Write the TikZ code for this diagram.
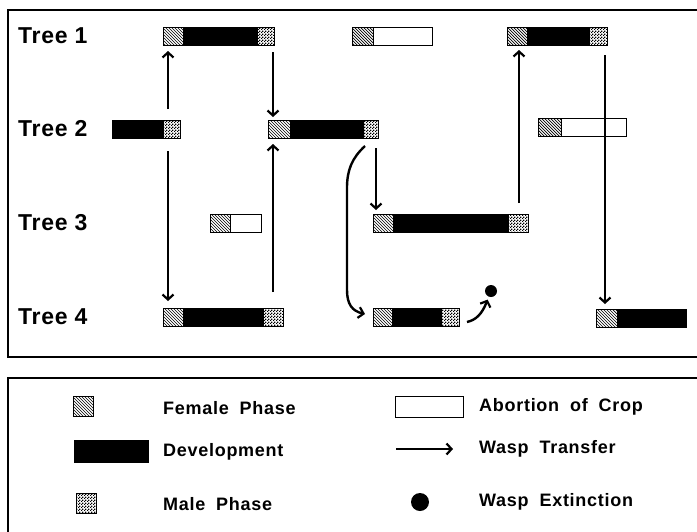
\documentclass[tikz,border=0pt]{standalone}
\usepackage{fontspec}
\setmainfont{Liberation Sans}
\newfontfamily\treefont[LetterSpace=3]{Liberation Sans}
\newfontfamily\legfont[LetterSpace=4,WordSpace=1.9]{Liberation Sans}
\usetikzlibrary{arrows.meta,patterns}
\pgfdeclarepatternformonly{mycheck}{\pgfpointorigin}{\pgfpoint{3pt}{3pt}}{\pgfpoint{3pt}{3pt}}{%
  \pgfpathrectangle{\pgfpointorigin}{\pgfpoint{1.5pt}{1.5pt}}%
  \pgfpathrectangle{\pgfpoint{1.5pt}{1.5pt}}{\pgfpoint{1.5pt}{1.5pt}}%
  \pgfusepath{fill}}
\pgfdeclarepatternformonly{myhatch}{\pgfpoint{-1pt}{-1pt}}{\pgfpoint{4pt}{4pt}}{\pgfpoint{3pt}{3pt}}{%
  \pgfsetlinewidth{0.7pt}%
  \pgfpathmoveto{\pgfpoint{0pt}{3pt}}\pgfpathlineto{\pgfpoint{3pt}{0pt}}%
  \pgfusepath{stroke}}
\begin{document}
\begin{tikzpicture}[x=1pt,y=-1pt,
  bar/.style={draw,line width=0.8pt,inner sep=0pt,outer sep=0pt,minimum height=18pt,anchor=north west},
  dev/.style={fill=black},
  abort/.style={fill=white},
  fem/.style={draw,line width=0.8pt,inner sep=0pt,outer sep=0pt,minimum height=18pt,minimum width=20pt,anchor=north west,preaction={fill=white},pattern=myhatch},
  mal/.style={draw,line width=0.8pt,inner sep=0pt,outer sep=0pt,minimum height=18pt,minimum width=17pt,anchor=north east,preaction={fill=white},pattern=mycheck},
  arr/.style={line width=2.4pt,-{Straight Barb[length=5pt,width=11pt,line width=2.2pt]}},
  tree/.style={font=\treefont\bfseries\fontsize{23}{26}\selectfont,anchor=west,inner sep=0pt},
  leg/.style={font=\legfont\bfseries\fontsize{18}{21}\selectfont,anchor=west,inner sep=0pt},
  frame/.style={line width=1.5pt},
  dot/.style={circle,fill=black,inner sep=0pt}]
\useasboundingbox (0,0) rectangle (697,531);
\clip (0,0) rectangle (697,531);

% frames
\draw[frame] (705,357) -- (8,357) -- (8,10) -- (705,10);
\draw[frame] (705,378) -- (8,378) -- (8,545);

% tree labels
\node[tree] (L1) at (18,36) {Tree 1};
\node[tree] (L2) at (18,129) {Tree 2};
\node[tree] (L3) at (18,223) {Tree 3};
\node[tree] (L4) at (18,317) {Tree 4};

% Tree 1
\node[bar,dev,minimum width=111pt] (T1a) at (163,27) {};
\node[fem] (T1aF) at (T1a.north west) {};
\node[mal] (T1aM) at (T1a.north east) {};
\node[bar,abort,minimum width=80pt] (T1b) at (352,27) {};
\node[fem,minimum width=21pt] (T1bF) at (T1b.north west) {};
\node[bar,dev,minimum width=100pt] (T1c) at (507,27) {};
\node[fem] (T1cF) at (T1c.north west) {};
\node[mal,minimum width=18pt] (T1cM) at (T1c.north east) {};

% Tree 2
\node[bar,dev,minimum width=68pt] (T2a) at (112,120) {};
\node[mal] (T2aM) at (T2a.north east) {};
\node[bar,dev,minimum width=110pt] (T2b) at (268,120) {};
\node[fem,minimum width=22pt] (T2bF) at (T2b.north west) {};
\node[mal,minimum width=15pt] (T2bM) at (T2b.north east) {};
\node[bar,abort,minimum width=88pt] (T2c) at (538,118) {};
\node[fem,minimum width=23pt] (T2cF) at (T2c.north west) {};

% Tree 3
\node[bar,abort,minimum width=51pt] (T3a) at (210,214) {};
\node[fem] (T3aF) at (T3a.north west) {};
\node[bar,dev,minimum width=155pt] (T3b) at (373,214) {};
\node[fem] (T3bF) at (T3b.north west) {};
\node[mal,minimum width=20pt] (T3bM) at (T3b.north east) {};

% Tree 4
\node[bar,dev,minimum width=120pt] (T4a) at (163,308) {};
\node[fem] (T4aF) at (T4a.north west) {};
\node[mal,minimum width=20pt] (T4aM) at (T4a.north east) {};
\node[bar,dev,minimum width=86pt] (T4b) at (373,308) {};
\node[fem,minimum width=19pt] (T4bF) at (T4b.north west) {};
\node[mal,minimum width=18pt] (T4bM) at (T4b.north east) {};
\node[bar,dev,minimum width=90pt] (T4c) at (596,309) {};
\node[fem,minimum width=21pt] (T4cF) at (T4c.north west) {};

% extinction
\node[dot,minimum size=12pt] (ext) at (491,291) {};

% transfers
\draw[arr,shorten <=11pt,shorten >=6pt] ([xshift=56pt]T2a.north west) -- ([xshift=5pt]T1a.south west);
\draw[arr,shorten <=7pt,shorten >=3pt] ([xshift=-1pt]T1a.south east) -- ([xshift=5pt]T2b.north west);
\draw[arr,shorten <=13pt,shorten >=7pt] ([xshift=56pt]T2a.south west) -- ([xshift=5pt]T4a.north west);
\draw[arr,shorten <=16pt,shorten >=6pt] ([xshift=110pt]T4a.north west) -- ([xshift=5pt]T2b.south west);
\draw[arr,shorten <=10pt,shorten >=4pt] ([xshift=-2pt]T2b.south east) -- ([xshift=3pt]T3b.north west);
\draw[arr,shorten <=11pt,shorten >=5pt] ([xshift=-9pt]T3b.north east) -- ([xshift=-88pt]T1c.south east);
\draw[arr,shorten <=10pt,shorten >=5pt] ([xshift=-2pt]T1c.south east) -- ([xshift=9pt]T4c.north west);
\draw[arr] ([xshift=-13pt,yshift=-8pt]T2b.south east) .. controls (352,158) and (347,170) .. (347,188)
  -- (347,290) .. controls (347,304) and (352,311) .. ([xshift=-8pt,yshift=3pt]T4b.west);
\draw[arr,shorten >=3pt] ([xshift=8pt,yshift=-5pt]T4b.east) .. controls (476,320) and (482,314) .. (ext);

% legend
\node[fem,minimum width=20pt,minimum height=20pt] (kF) at (73,396) {};
\node[leg] (tF) at (163,408) {Female Phase};
\node[bar,dev,minimum width=74pt,minimum height=22pt] (kD) at (74,440) {};
\node[leg] (tD) at (163,452) {Development};
\node[mal,anchor=north west,minimum width=20pt,minimum height=20pt] (kM) at (76,493) {};
\node[leg] (tM) at (163,504) {Male Phase};
\node[bar,abort,minimum width=68pt,minimum height=21pt] (kA) at (395,396) {};
\node[leg] (tA) at (479,407) {Abortion of Crop};
\coordinate (kTs) at (396,449);
\coordinate (kTe) at (453,449);
\draw[arr] (kTs) -- (kTe);
\node[leg] (tT) at (479,449) {Wasp Transfer};
\node[dot,minimum size=18pt] (kE) at (420,502) {};
\node[leg] (tE) at (479,502) {Wasp Extinction};
\end{tikzpicture}
\end{document}
